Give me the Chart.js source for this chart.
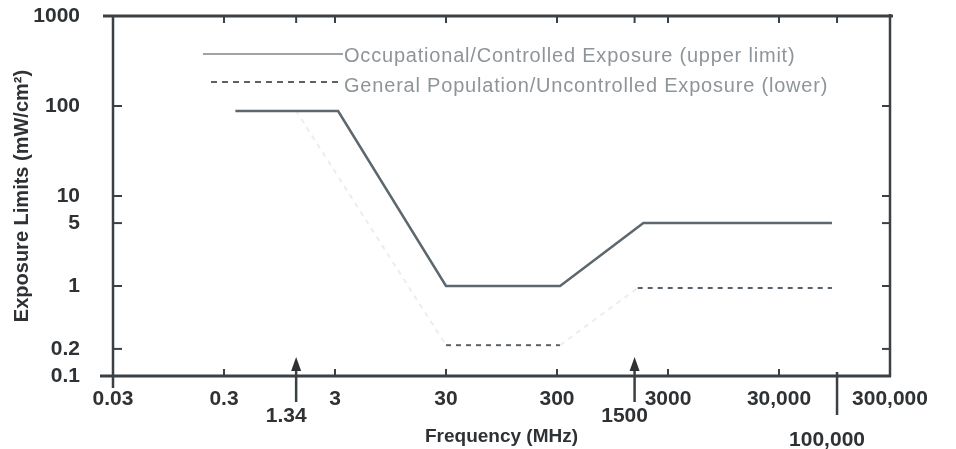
<!DOCTYPE html>
<html><head><meta charset="utf-8">
<script src="https://cdn.jsdelivr.net/npm/chart.js@4"></script>
<style>html,body{margin:0;padding:0;background:#fff}#wrap{width:956px;height:449px;position:relative}</style>
</head><body><div id="wrap"><canvas id="c"></canvas></div>
<script>
// ---- data ----
const occFreq  = [0.38, 3.2, 30, 320, 1800, 90000];
const occLimit = [88, 88, 1, 1, 5, 5];
const genFreq  = [0.38, 1.34, 30, 320, 1600, 90000];
const genLimit = [88, 88, 0.22, 0.22, 0.95, 0.95];
const xTickValues = [0.03, 0.3, 3, 30, 300, 3000, 30000, 300000];
const xTickLabels = ['0.03', '0.3', '3', '30', '300', '3000', '30,000', '300,000'];
const yTickValues = [0.1, 0.2, 1, 5, 10, 100, 1000];
const yTickLabels = ['0.1', '0.2', '1', '5', '10', '100', '1000'];
const markerValues = [1.34, 1500, 100000];
const markerLabels = ['1.34', '1500', '100,000'];
const topTickValues = [0.3, 1.34, 3, 30, 300, 1500, 3000, 30000, 100000];
const seriesNames = ['Occupational/Controlled Exposure (upper limit)',
                     'General Population/Uncontrolled Exposure (lower)'];
const genFaintSegments = [0, 1, 3];

const AX = '#3b4044';
const LINE = '#5d676e';
const FONT = '"Liberation Sans", Arial, sans-serif';

const framePlugin = {
  id: 'frame',
  afterDraw(chart) {
    const {ctx, chartArea: a, scales: {x, y}} = chart;
    const ln = (x1, y1, x2, y2) => { ctx.beginPath(); ctx.moveTo(x1, y1); ctx.lineTo(x2, y2); ctx.stroke(); };
    ctx.save();
    ctx.strokeStyle = AX;
    ctx.lineWidth = 3;
    ln(100, a.bottom, a.right + 1, a.bottom);
    ln(103, a.top, a.right + 3, a.top);
    ctx.lineWidth = 2.5;
    ln(a.left, a.top - 1, a.left, a.bottom + 12);
    ln(a.right, a.top - 2, a.right, a.bottom + 1);
    ctx.lineWidth = 2;
    yTickValues.forEach(v => {
      if (v === 1000 || v === 0.1) return;
      const py = y.getPixelForValue(v);
      ln(a.left, py, a.left + 9, py);
      ln(a.right - 8, py, a.right, py);
    });
    xTickValues.slice(1, -1).forEach(v => {
      const px = x.getPixelForValue(v);
      ln(px, a.bottom, px, a.bottom - 7);
    });
    topTickValues.forEach(v => {
      const px = x.getPixelForValue(v);
      ln(px, a.top, px, a.top + 7);
    });
    // markers below the axis
    ctx.fillStyle = '#2e3235';
    ctx.lineWidth = 2.5;
    markerValues.forEach((v, i) => {
      const px = x.getPixelForValue(v);
      if (i < 2) {
        ln(px, a.bottom + 26, px, a.bottom - 6);
        ctx.beginPath();
        ctx.moveTo(px, a.bottom - 19);
        ctx.lineTo(px - 5, a.bottom - 5);
        ctx.lineTo(px + 5, a.bottom - 5);
        ctx.closePath();
        ctx.fill();
      } else {
        ln(px, a.bottom - 4, px, a.bottom + 39);
      }
    });
    ctx.font = 'bold 21px ' + FONT;
    ctx.textAlign = 'center';
    ctx.textBaseline = 'middle';
    markerValues.forEach((v, i) => {
      const px = x.getPixelForValue(v);
      const py = i < 2 ? a.bottom + 40 : a.bottom + 64;
      ctx.fillText(markerLabels[i], px - 10, py);
    });
    // legend
    const lx1 = 203, lx2 = 343;
    const rows = [56, 86];
    ctx.lineWidth = 2;
    ctx.strokeStyle = '#9ea3a7';
    ln(lx1, rows[0] - 2, lx2, rows[0] - 2);
    ctx.strokeStyle = '#5b6368';
    ctx.setLineDash([6, 5]);
    ln(lx1 + 8, rows[1] - 4, lx2, rows[1] - 4);
    ctx.setLineDash([]);
    ctx.fillStyle = '#8e9599';
    ctx.font = '20px ' + FONT;
    ctx.textAlign = 'left';
    try { ctx.letterSpacing = '0.8px'; } catch (e) {}
    seriesNames.forEach((t, i) => ctx.fillText(t, lx2 + 1, rows[i]));
    ctx.restore();
  }
};

new Chart(document.getElementById('c'), {
  type: 'line',
  data: {
    datasets: [
      {
        label: seriesNames[0],
        data: occFreq.map((f, i) => ({x: f, y: occLimit[i]})),
        borderColor: LINE, borderWidth: 2.5, pointRadius: 0, tension: 0, fill: false
      },
      {
        label: seriesNames[1],
        data: genFreq.map((f, i) => ({x: f, y: genLimit[i]})),
        borderColor: '#59626a', borderWidth: 2, borderDash: [5, 5], pointRadius: 0, tension: 0, fill: false,
        segment: {
          borderColor: c => genFaintSegments.includes(c.p0DataIndex) ? '#ededed' : undefined
        }
      }
    ]
  },
  options: {
    responsive: true, maintainAspectRatio: false, animation: false,
    layout: {padding: {top: 16, right: 66, left: 0, bottom: 0}},
    plugins: {legend: {display: false}, tooltip: {enabled: false}},
    scales: {
      x: {
        type: 'logarithmic', min: 0.03, max: 300000,
        border: {display: false},
        grid: {display: false, drawTicks: false},
        afterBuildTicks: s => { s.ticks = xTickValues.map(v => ({value: v})); },
        afterFit: s => { s.height = 73; s.paddingLeft = 0; s.paddingRight = 0; },
        ticks: {
          autoSkip: false, maxRotation: 0, padding: 11, color: '#2e3235',
          font: {family: FONT, size: 21, weight: 'bold'},
          callback: (v, i) => xTickLabels[i]
        },
        title: {display: true, text: 'Frequency (MHz)', color: '#2e3235',
                font: {family: FONT, size: 19, weight: 'bold'}, padding: {top: 0, bottom: 1}}
      },
      y: {
        type: 'logarithmic', min: 0.1, max: 1000,
        border: {display: false},
        grid: {display: false, drawTicks: false},
        afterBuildTicks: s => { s.ticks = yTickValues.map(v => ({value: v})); },
        afterFit: s => { s.width = 113; s.paddingTop = 0; s.paddingBottom = 0; },
        ticks: {
          autoSkip: false, padding: 33, color: '#2e3235',
          font: {family: FONT, size: 21, weight: 'bold'},
          callback: (v, i) => yTickLabels[i]
        },
        title: {display: true, text: 'Exposure Limits (mW/cm²)', color: '#2e3235',
                font: {family: FONT, size: 20, weight: 'bold'}, padding: {top: 10, bottom: 0}}
      }
    }
  },
  plugins: [framePlugin]
});
</script></body></html>
